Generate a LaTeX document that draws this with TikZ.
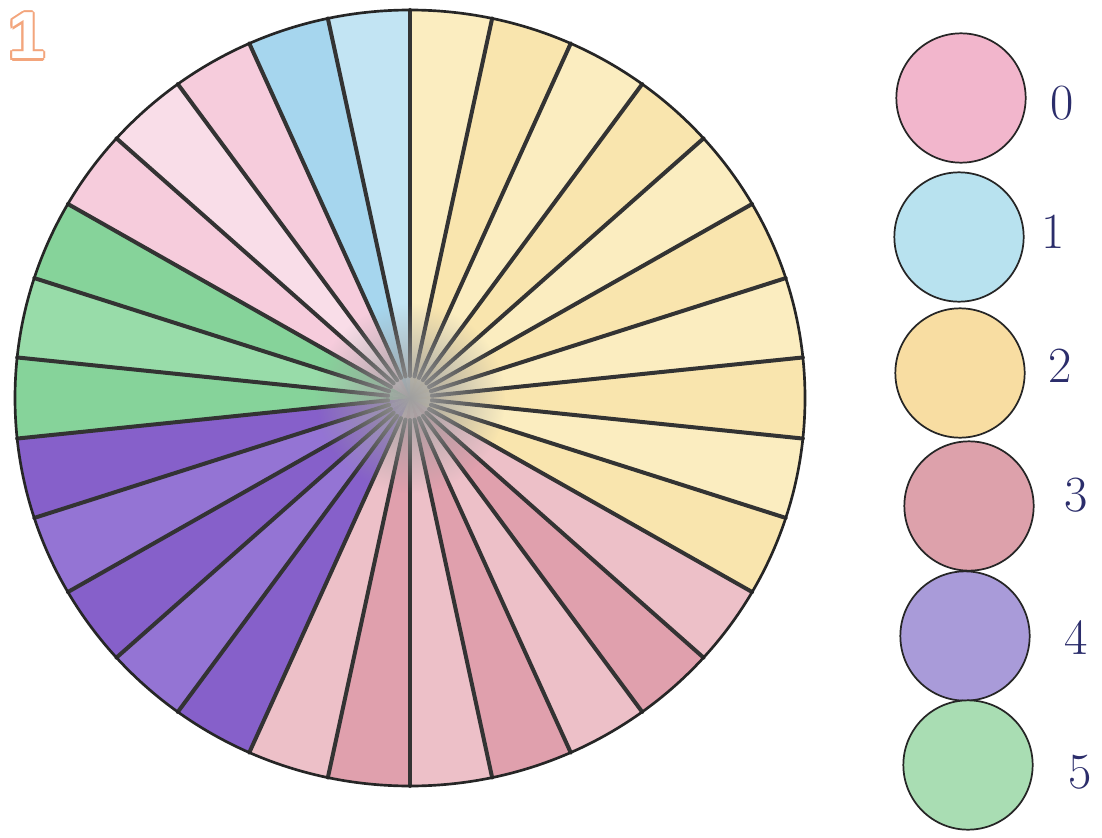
\documentclass[tikz,border=0pt]{standalone}
\usepackage{fontspec}
\newfontfamily\numfont{Liberation Sans}
\usetikzlibrary{fadings}
\definecolor{yelA}{HTML}{FBEDC0}\definecolor{yelB}{HTML}{F9E5AE}
\definecolor{redA}{HTML}{E0A0AD}\definecolor{redB}{HTML}{EDC0C8}
\definecolor{purA}{HTML}{8660CA}\definecolor{purB}{HTML}{9474D4}
\definecolor{grnA}{HTML}{86D39A}\definecolor{grnB}{HTML}{98DCA9}
\definecolor{pnkA}{HTML}{F6CCDC}\definecolor{pnkB}{HTML}{F9DDE8}
\definecolor{bluA}{HTML}{A6D6EE}\definecolor{bluB}{HTML}{C2E4F3}
\definecolor{lpink}{HTML}{F2B6CC}\definecolor{lblue}{HTML}{B8E2EF}
\definecolor{lyel}{HTML}{F8DDA2}\definecolor{lred}{HTML}{DDA1AB}
\definecolor{lpur}{HTML}{A99BD9}\definecolor{lgrn}{HTML}{A9DDB3}
\definecolor{ink}{HTML}{2B2D6B}\definecolor{orng}{HTML}{F3A57C}
\tikzfading[name=smudge, inner color=transparent!0, outer color=transparent!100]
\newcommand{\oc}[3]{\rlap{\kern#1\raisebox{#2}{\textcolor{orng}{#3}}}}
\newcommand{\outlined}[1]{\leavevmode\oc{-1.6pt}{0pt}{#1}\oc{1.6pt}{0pt}{#1}\oc{0pt}{1.6pt}{#1}\oc{0pt}{-1.6pt}{#1}\oc{-1.1pt}{1.1pt}{#1}\oc{1.1pt}{1.1pt}{#1}\oc{-1.1pt}{-1.1pt}{#1}\oc{1.1pt}{-1.1pt}{#1}\textcolor{white}{#1}}
\begin{document}
\begin{tikzpicture}[x=0.75pt,y=-0.75pt,
  spoke/.style={line width=3pt, draw=black!80, line cap=round},
  legend/.style={circle, draw=black!85, line width=1.3pt, minimum size=97pt, inner sep=0pt},
  lab/.style={text=ink, font=\fontsize{38}{38}\selectfont, inner sep=0pt}]
\useasboundingbox[fill=white] (0,0) rectangle (1102,838);
\def\cx{410}\def\cy{398}\def\rx{395}\def\ry{388}
% sectors (clockwise from top, 12 degrees each)
\foreach \i/\c in {0/yelA,1/yelB,2/yelA,3/yelB,4/yelA,5/yelB,6/yelA,7/yelB,8/yelA,9/yelB,
  10/redB,11/redA,12/redB,13/redA,14/redB,15/redA,16/redB,
  17/purA,18/purB,19/purA,20/purB,21/purA,
  22/grnA,23/grnB,24/grnA,
  25/pnkA,26/pnkB,27/pnkA,
  28/bluA,29/bluB}{
  \pgfmathsetmacro\a{12*\i}
  \pgfmathsetmacro\b{12*\i+12}
  \fill[\c] (\cx,\cy) -- plot[domain=\a:\b, samples=12, variable=\t] ({\cx+\rx*sin(\t)},{\cy-\ry*cos(\t)}) -- cycle;
}
% spokes
\foreach \i in {0,...,29}{
  \draw[spoke] ({\cx+22*sin(12*\i)},{\cy-22*cos(12*\i)}) -- ({\cx+\rx*sin(12*\i)},{\cy-\ry*cos(12*\i)});
}
% centre smudge
\fill[gray!75, path fading=smudge] (\cx,\cy) circle [radius=95];
% rim
\draw[line width=2pt, black!85] (\cx,\cy) ellipse [x radius=\rx, y radius=\ry];
% legend
\node[legend, fill=lpink] (l0) at (961,98) {};
\node[legend, fill=lblue] (l1) at (959,237) {};
\node[legend, fill=lyel]  (l2) at (960,373) {};
\node[legend, fill=lred]  (l3) at (969,506) {};
\node[legend, fill=lpur]  (l4) at (965,636) {};
\node[legend, fill=lgrn]  (l5) at (968,765) {};
\node[lab] (t0) at (1062,103) {0};
\node[lab] (t1) at (1053,232) {1};
\node[lab] (t2) at (1060,366) {2};
\node[lab] (t3) at (1076,495) {3};
\node[lab] (t4) at (1076,638) {4};
\node[lab] (t5) at (1080,772) {5};
% outlined numeral at top left
\node[font=\numfont\bfseries\fontsize{50}{50}\selectfont, inner sep=0pt] (num) at (27,36) {\outlined{1}};
\end{tikzpicture}
\end{document}
